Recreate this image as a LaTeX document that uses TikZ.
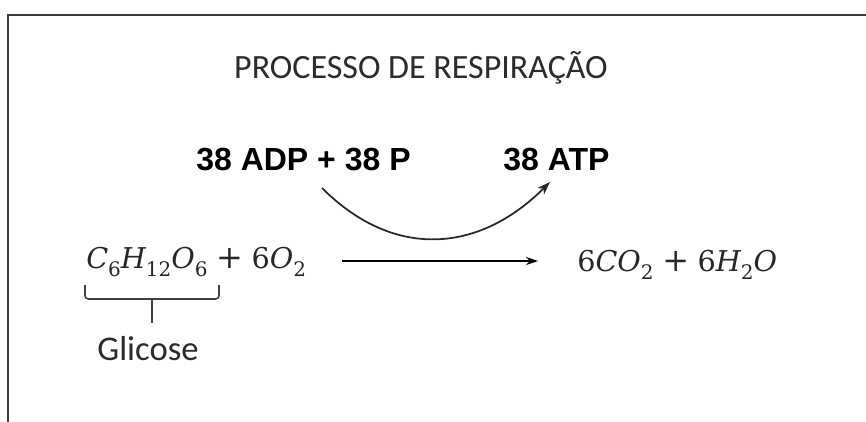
\documentclass[tikz,border=0pt]{standalone}
\usepackage[no-math]{fontspec}
\setmainfont{Carlito}
\newfontfamily\arialf{Liberation Sans}
\newfontfamily\cambf{DejaVu Serif}
\usetikzlibrary{arrows.meta}
\definecolor{framegray}{HTML}{3C3C3C}
\definecolor{txtgray}{HTML}{2B2B2B}
\newcommand\chemsub[1]{\raisebox{-0.28em}{\fontsize{15}{18}\selectfont\upshape #1}}
\newcommand\chemel[1]{{\itshape #1}}
\newcommand\chemplus{\hspace{0.3em}{\fontsize{24}{28}\selectfont+}\hspace{0.3em}}
\tikzset{
  frameline/.style={draw=framegray, line width=1.6pt},
  titletxt/.style={font=\fontsize{25.5}{30}\selectfont, text=txtgray, inner sep=0pt, anchor=base},
  boldtxt/.style={font=\arialf\bfseries\fontsize{24}{28}\selectfont, text=black, inner sep=0pt, anchor=base},
  eqtxt/.style={font=\cambf\fontsize{21.5}{26}\selectfont, text=black!85, inner sep=0pt, anchor=base west},
  lbltxt/.style={font=\fontsize{26}{30}\selectfont, text=txtgray, inner sep=0pt, anchor=base},
  reactarrow/.style={draw=black, line width=1pt, -{Stealth[length=9pt,width=6pt]}},
  cyclearrow/.style={draw=black!85, line width=1.3pt, -{Stealth[length=10pt,width=7pt]}},
  bracket/.style={draw=black!75, line width=1.2pt, rounded corners=2.5pt},
}
\begin{document}
\begin{tikzpicture}[x=0.75pt,y=-0.75pt]
\useasboundingbox (0,0) rectangle (866,421);
\draw[frameline] (8,430) -- (8,15) -- (875,15);

\node[titletxt] (title) at (421,78) {PROCESSO DE RESPIRAÇÃO};
\node[boldtxt] (adp) at (303.5,170) {38 ADP + 38 P};
\node[boldtxt] (atp) at (556.5,170) {38 ATP};

\node[eqtxt] (reag) at (86,268) {\chemel{C}\chemsub{6}\chemel{H}\chemsub{12}\chemel{O}\chemsub{6}\chemplus 6\chemel{O}\chemsub{2}};
\node[eqtxt] (prod) at (577,271) {6\chemel{CO}\chemsub{2}\chemplus 6\chemel{H}\chemsub{2}\chemel{O}};

\coordinate (a1) at (342,261);
\coordinate (a2) at (538,261);
\draw[reactarrow] (a1) -- (a2);

\coordinate (c1) at (322,188);
\coordinate (c2) at (550,182);
\draw[cyclearrow] (c1) .. controls (393,259) and (478,254) .. (c2);

\coordinate (b1) at (85,285);
\coordinate (b2) at (219,285);
\coordinate (bm) at (152,299);
\coordinate (bt) at (152,323);
\draw[bracket] (b1) -- (85,299) -- (219,299) -- (b2);
\draw[bracket] (bm) -- (bt);

\node[lbltxt] (glic) at (148,360) {Glicose};
\end{tikzpicture}
\end{document}
